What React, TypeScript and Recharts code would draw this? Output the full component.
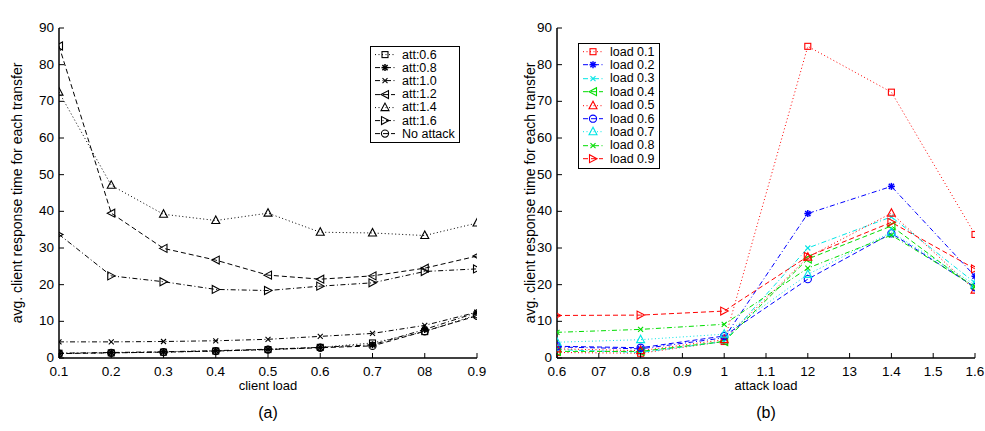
import { LineChart, Line, XAxis, YAxis, Legend } from "recharts";

const FONT = "'Liberation Sans', Arial, Helvetica, sans-serif";

// (a) client load on x, one series per attack load
const clientLoad = [0.1, 0.2, 0.3, 0.4, 0.5, 0.6, 0.7, 0.8, 0.9];
const clientTicks = [0.1, 0.2, 0.3, 0.4, 0.5, 0.6, 0.7, 0.8, 0.9];
const clientTickLabels = ["0.1", "0.2", "0.3", "0.4", "0.5", "0.6", "0.7", "08", "0.9"];

const att06 = [1.3, 1.4, 1.6, 1.9, 2.3, 2.9, 4.1, 7.2, 11.8];
const att08 = [1.3, 1.5, 1.7, 2.0, 2.4, 2.9, 3.6, 7.8, 12.4];
const att10 = [4.4, 4.4, 4.5, 4.7, 5.1, 5.9, 6.7, 8.9, 12.5];
const att12 = [85.1, 39.5, 29.9, 26.7, 22.6, 21.5, 22.4, 24.5, 27.8];
const att14 = [72.5, 47.1, 39.2, 37.5, 39.5, 34.3, 34.1, 33.4, 36.8];
const att16 = [33.7, 22.4, 20.8, 18.7, 18.4, 19.6, 20.5, 23.6, 24.3];
const noAttack = [1.2, 1.4, 1.6, 1.9, 2.3, 2.8, 3.3, 7.3, 11.5];

// (b) attack load on x, one series per client load
const attackLoad = [0.6, 0.8, 1.0, 1.2, 1.4, 1.6];
const attackTicks = [0.6, 0.7, 0.8, 0.9, 1.0, 1.1, 1.2, 1.3, 1.4, 1.5, 1.6];
const attackTickLabels = ["0.6", "07", "0.8", "0.9", "1", "1.1", "12", "13", "1.4", "1.5", "1.6"];

const load01 = [1.5, 1.3, 4.5, 85.0, 72.5, 33.7];
const load02 = [3.0, 2.5, 5.5, 39.4, 46.8, 22.3];
const load03 = [2.3, 1.5, 4.5, 30.0, 38.5, 20.5];
const load04 = [1.8, 1.8, 4.5, 27.0, 36.0, 19.0];
const load05 = [2.5, 2.0, 5.0, 27.5, 39.5, 18.5];
const load06 = [3.2, 2.8, 6.0, 21.5, 34.0, 19.3];
const load07 = [4.3, 5.0, 6.5, 22.8, 34.3, 20.0];
const load08 = [7.0, 7.8, 9.2, 24.5, 33.5, 19.5];
const load09 = [11.6, 11.7, 12.8, 27.7, 37.0, 24.3];

const yTicks = [0, 10, 20, 30, 40, 50, 60, 70, 80, 90];

const DOTTED = "1 2.5";
const DASHED = "5 3";
const DASHDOT = "5 2.5 1 2.5";

type Shape = "square" | "star" | "x" | "left" | "up" | "right" | "circle";

interface Series {
  key: string;
  name: string;
  values: number[];
  color: string;
  dash: string;
  shape: Shape;
}

const attackSeries: Series[] = [
  { key: "a06", name: "att:0.6", values: att06, color: "#000", dash: DOTTED, shape: "square" },
  { key: "a08", name: "att:0.8", values: att08, color: "#000", dash: DASHDOT, shape: "star" },
  { key: "a10", name: "att:1.0", values: att10, color: "#000", dash: DASHDOT, shape: "x" },
  { key: "a12", name: "att:1.2", values: att12, color: "#000", dash: DASHED, shape: "left" },
  { key: "a14", name: "att:1.4", values: att14, color: "#000", dash: DOTTED, shape: "up" },
  { key: "a16", name: "att:1.6", values: att16, color: "#000", dash: DASHDOT, shape: "right" },
  { key: "none", name: "No attack", values: noAttack, color: "#000", dash: DASHED, shape: "circle" },
];

const RED = "#ff0000";
const BLUE = "#0000ff";
const CYAN = "#00e5e5";
const GREEN = "#00dd00";

const loadSeries: Series[] = [
  { key: "l01", name: "load 0.1", values: load01, color: RED, dash: DOTTED, shape: "square" },
  { key: "l02", name: "load 0.2", values: load02, color: BLUE, dash: DASHDOT, shape: "star" },
  { key: "l03", name: "load 0.3", values: load03, color: CYAN, dash: DASHDOT, shape: "x" },
  { key: "l04", name: "load 0.4", values: load04, color: GREEN, dash: DASHED, shape: "left" },
  { key: "l05", name: "load 0.5", values: load05, color: RED, dash: DOTTED, shape: "up" },
  { key: "l06", name: "load 0.6", values: load06, color: BLUE, dash: DASHED, shape: "circle" },
  { key: "l07", name: "load 0.7", values: load07, color: CYAN, dash: DOTTED, shape: "up" },
  { key: "l08", name: "load 0.8", values: load08, color: GREEN, dash: DASHDOT, shape: "x" },
  { key: "l09", name: "load 0.9", values: load09, color: RED, dash: DASHED, shape: "right" },
];

function buildRows(xs: number[], series: Series[]) {
  return xs.map((x, i) => {
    const row: Record<string, number> = { x };
    series.forEach((s) => (row[s.key] = s.values[i]));
    return row;
  });
}

const clientRows = buildRows(clientLoad, attackSeries);
const attackRows = buildRows(attackLoad, loadSeries);

function Marker({ shape, cx, cy, color }: { shape: Shape; cx: number; cy: number; color: string }) {
  const sw = 1.1;
  switch (shape) {
    case "square":
      return <rect x={cx - 3} y={cy - 3} width={6} height={6} fill="none" stroke={color} strokeWidth={sw} />;
    case "star":
      return (
        <g stroke={color} strokeWidth={1.5}>
          <line x1={cx - 3.5} y1={cy} x2={cx + 3.5} y2={cy} />
          <line x1={cx} y1={cy - 3.5} x2={cx} y2={cy + 3.5} />
          <line x1={cx - 2.6} y1={cy - 2.6} x2={cx + 2.6} y2={cy + 2.6} />
          <line x1={cx - 2.6} y1={cy + 2.6} x2={cx + 2.6} y2={cy - 2.6} />
        </g>
      );
    case "x":
      return (
        <g stroke={color} strokeWidth={sw}>
          <line x1={cx - 2.5} y1={cy - 2.5} x2={cx + 2.5} y2={cy + 2.5} />
          <line x1={cx - 2.5} y1={cy + 2.5} x2={cx + 2.5} y2={cy - 2.5} />
        </g>
      );
    case "left":
      return <polygon points={`${cx - 4},${cy} ${cx + 3.5},${cy - 4} ${cx + 3.5},${cy + 4}`} fill="none" stroke={color} strokeWidth={sw} />;
    case "right":
      return <polygon points={`${cx + 4},${cy} ${cx - 3.5},${cy - 4} ${cx - 3.5},${cy + 4}`} fill="none" stroke={color} strokeWidth={sw} />;
    case "up":
      return <polygon points={`${cx},${cy - 4.5} ${cx - 4},${cy + 3} ${cx + 4},${cy + 3}`} fill="none" stroke={color} strokeWidth={sw} />;
    case "circle":
    default:
      return <circle cx={cx} cy={cy} r={3.6} fill="none" stroke={color} strokeWidth={sw} />;
  }
}

function labelFor(value: number, ticks: number[], labels: string[]) {
  const i = ticks.findIndex((t) => Math.abs(t - value) < 1e-6);
  return i >= 0 ? labels[i] : String(value);
}

// Matlab-style inward ticks
const BottomTick = (ticks: number[], labels: string[]) => (p: any) => (
  <g>
    <line x1={p.x} x2={p.x} y1={p.y} y2={p.y - 5} stroke="#000" />
    <text x={p.x} y={p.y + 18} textAnchor="middle" fontSize={13.5} fontFamily={FONT} fill="#000">
      {labelFor(p.payload.value, ticks, labels)}
    </text>
  </g>
);
const TopTick = (p: any) => <line x1={p.x} x2={p.x} y1={p.y} y2={p.y + 5} stroke="#000" />;
const LeftTick = (p: any) => (
  <g>
    <line x1={p.x} x2={p.x + 5} y1={p.y} y2={p.y} stroke="#000" />
    <text x={p.x - 5} y={p.y + 4} textAnchor="end" fontSize={13.5} fontFamily={FONT} fill="#000">
      {p.payload.value}
    </text>
  </g>
);
const RightTick = (p: any) => <line x1={p.x} x2={p.x - 5} y1={p.y} y2={p.y} stroke="#000" />;

function LegendBox({ series, width, rowH }: { series: Series[]; width: number; rowH: number }) {
  return (
    <div style={{ border: "1.5px solid #000", background: "#fff", width, padding: "1px 0 2px 0", fontFamily: FONT }}>
      {series.map((s) => (
        <div key={s.key} style={{ display: "flex", alignItems: "center", height: rowH }}>
          <svg width={30} height={rowH} style={{ flex: "none" }}>
            <line x1={4} x2={24} y1={rowH / 2} y2={rowH / 2} stroke={s.color} strokeDasharray={s.dash} />
            <Marker shape={s.shape} cx={14} cy={rowH / 2} color={s.color} />
          </svg>
          <span style={{ fontSize: 12.5, color: "#000", whiteSpace: "nowrap", marginLeft: 1 }}>{s.name}</span>
        </div>
      ))}
    </div>
  );
}

interface PanelProps {
  rows: Record<string, number>[];
  series: Series[];
  xDomain: [number, number];
  xTicks: number[];
  xTickLabels: string[];
  width: number;
  marginRight: number;
  yAxisWidth: number;
  yLabelX: number;
  title: string;
  xLabel: string;
  tag: string;
  legendPos: { left: number; top: number; width: number; rowH: number };
}

function Panel(props: PanelProps) {
  const { rows, series, xDomain, xTicks, xTickLabels, width, marginRight, yAxisWidth, yLabelX, title, xLabel, tag, legendPos } = props;
  const axisLine = { stroke: "#000", strokeWidth: 1.5 };
  return (
    <LineChart width={width} height={431} data={rows} margin={{ top: 28, right: marginRight, bottom: 43, left: 0 }}>
      <XAxis
        dataKey="x"
        type="number"
        domain={xDomain}
        ticks={xTicks}
        allowDataOverflow
        height={30}
        tickSize={0}
        tickMargin={0}
        tickLine={false}
        axisLine={axisLine}
        tick={BottomTick(xTicks, xTickLabels)}
        label={(lp: any) => {
          const vb = lp.viewBox;
          const cx = vb.x + vb.width / 2;
          return (
            <g fontFamily={FONT} fill="#000">
              <text x={cx} y={vb.y + 32} textAnchor="middle" fontSize={13}>
                {xLabel}
              </text>
              <text x={cx} y={vb.y + 60} textAnchor="middle" fontSize={16}>
                {tag}
              </text>
            </g>
          );
        }}
      />
      <XAxis
        xAxisId="top"
        dataKey="x"
        type="number"
        orientation="top"
        domain={xDomain}
        ticks={xTicks}
        allowDataOverflow
        height={0}
        tickSize={0}
        tickMargin={0}
        tickLine={false}
        axisLine={axisLine}
        tick={TopTick}
        label={(lp: any) => {
          const vb = lp.viewBox;
          return (
            <text x={vb.x + vb.width / 2} y={vb.y - 10} textAnchor="middle" fontSize={12} fontFamily={FONT} fill="#000">
              {title}
            </text>
          );
        }}
      />
      <YAxis
        type="number"
        domain={[0, 90]}
        ticks={yTicks}
        allowDataOverflow
        width={yAxisWidth}
        tickSize={0}
        tickMargin={0}
        tickLine={false}
        axisLine={axisLine}
        tick={LeftTick}
        label={(lp: any) => {
          const vb = lp.viewBox;
          const cx = vb.x + yLabelX;
          const cy = vb.y + vb.height / 2;
          return (
            <text x={cx} y={cy} transform={`rotate(-90 ${cx} ${cy})`} textAnchor="middle" dominantBaseline="central" fontSize={14} fontFamily={FONT} fill="#000">
              avg. client response time for each transfer
            </text>
          );
        }}
      />
      <YAxis
        yAxisId="right"
        orientation="right"
        type="number"
        domain={[0, 90]}
        ticks={yTicks}
        allowDataOverflow
        width={0}
        tickSize={0}
        tickMargin={0}
        tickLine={false}
        axisLine={axisLine}
        tick={RightTick}
      />
      <Legend
        layout="vertical"
        align="center"
        verticalAlign="middle"
        wrapperStyle={{ position: "absolute", left: legendPos.left, top: legendPos.top, width: "auto" }}
        content={() => <LegendBox series={series} width={legendPos.width} rowH={legendPos.rowH} />}
      />
      {series.map((s) => (
        <Line
          key={s.key}
          dataKey={s.key}
          name={s.name}
          type="linear"
          stroke={s.color}
          strokeWidth={1}
          strokeDasharray={s.dash}
          isAnimationActive={false}
          dot={(d: any) => <Marker key={`${s.key}-${d.index}`} shape={s.shape} cx={d.cx} cy={d.cy} color={s.color} />}
          activeDot={false}
        />
      ))}
    </LineChart>
  );
}

export default function App() {
  return (
    <div style={{ position: "absolute", left: 0, top: 0, width: 985, height: 431, background: "#fff" }}>
      <div style={{ position: "absolute", left: 0, top: 0 }}>
        <Panel
          rows={clientRows}
          series={attackSeries}
          xDomain={[0.1, 0.9]}
          xTicks={clientTicks}
          xTickLabels={clientTickLabels}
          width={500}
          marginRight={23}
          yAxisWidth={59}
          yLabelX={17}
          title="client loads vs. average response time for each attack load"
          xLabel="client load"
          tag="(a)"
          legendPos={{ left: 370, top: 46, width: 88, rowH: 13.2 }}
        />
      </div>
      <div style={{ position: "absolute", left: 500, top: 0 }}>
        <Panel
          rows={attackRows}
          series={loadSeries}
          xDomain={[0.6, 1.6]}
          xTicks={attackTicks}
          xTickLabels={attackTickLabels}
          width={485}
          marginRight={10}
          yAxisWidth={57}
          yLabelX={30}
          title="client load vs. average response time"
          xLabel="attack load"
          tag="(b)"
          legendPos={{ left: 78, top: 43, width: 80, rowH: 13.4 }}
        />
      </div>
    </div>
  );
}
